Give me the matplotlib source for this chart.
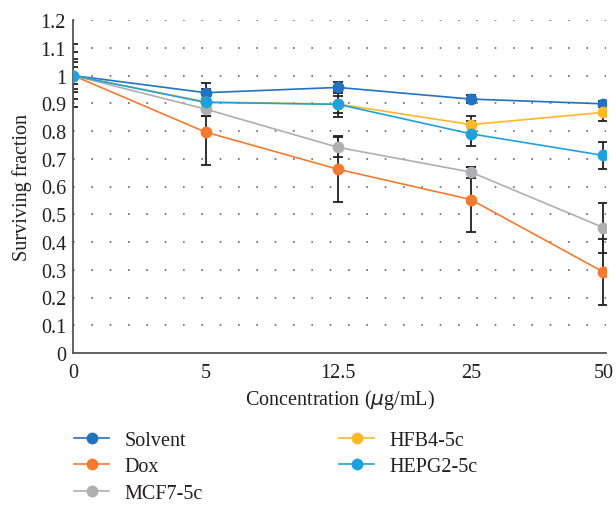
import matplotlib
matplotlib.use("Agg")
import matplotlib.pyplot as plt
import numpy as np

plt.rcParams['font.family'] = ['Liberation Serif', 'DejaVu Serif']

concentrations = ["0", "5", "12.5", "25", "50"]
series_names = ["Solvent", "Dox", "MCF7-5c", "HFB4-5c", "HEPG2-5c"]
solvent = [1.0, 0.938, 0.957, 0.915, 0.898]
dox = [1.0, 0.796, 0.662, 0.553, 0.292]
mcf7 = [1.0, 0.879, 0.741, 0.652, 0.452]
hfb4 = [1.0, 0.905, 0.897, 0.823, 0.867]
hepg2 = [1.0, 0.903, 0.896, 0.790, 0.712]
solvent_err = [0.03, 0.035, 0.02, 0.015, 0.01]
dox_err = [0.05, 0.118, 0.119, 0.118, 0.12]
mcf7_err = [0.085, 0.024, 0.036, 0.02, 0.09]
hfb4_err = [0.113, 0.03, 0.048, 0.03, 0.03]
hepg2_err = [0.06, 0.048, 0.03, 0.045, 0.048]
colors = ["#2272C0", "#F47A30", "#AFAFB1", "#FDB927", "#1EA1DC"]

values = [solvent, dox, mcf7, hfb4, hepg2]
errors = [solvent_err, dox_err, mcf7_err, hfb4_err, hepg2_err]

fig = plt.figure(figsize=(6.16, 5.06), dpi=100)
ax = fig.add_axes([73/616, 1-354/506, (606-73)/616, (354-21)/506])

x = np.arange(len(concentrations))
for name, v, e, c in zip(series_names, values, errors, colors):
    ax.errorbar(x, v, yerr=e, fmt='none', ecolor='#231F20', elinewidth=1.3,
                capsize=3.5, capthick=1.3, zorder=2)
handles = []
for name, v, e, c in zip(series_names, values, errors, colors):
    h, = ax.plot(x, v, color=c, lw=1.2, marker='o', markersize=8.5,
                 markeredgewidth=0, label=name, zorder=3)
    handles.append(h)

ax.set_xlim(0, 4.02)
ax.set_ylim(0, 1.2)
ax.set_xticks(x)
ax.set_xticklabels(concentrations)
ax.set_yticks(np.arange(0, 1.21, 0.1))
ax.set_yticklabels(["0", "0.1", "0.2", "0.3", "0.4", "0.5", "0.6", "0.7", "0.8", "0.9", "1", "1.1", "1.2"])
ax.tick_params(axis='both', length=0, labelsize=14.5, colors='#231F20', pad=5)
ax.tick_params(axis='x', pad=7)
for yv in np.arange(0.1, 1.21, 0.1):
    ax.axhline(yv, color='#666666', lw=1.2, linestyle=(0, (1, 10)), zorder=1)
for s in ['top', 'right']:
    ax.spines[s].set_visible(False)
for s in ['left', 'bottom']:
    ax.spines[s].set_color('#555555')
    ax.spines[s].set_linewidth(1.3)

ax.set_xlabel("Concentration ($\\mu$g/mL)", fontsize=14.5, color='#231F20', labelpad=4)
ax.set_ylabel("Surviving fraction", fontsize=14.5, color='#231F20', labelpad=6)

leg_kw = dict(frameon=False, fontsize=14.5, handlelength=1.75, labelspacing=0.36,
              handletextpad=0.75, borderpad=0, borderaxespad=0, loc='upper left',
              labelcolor='#231F20')
leg1 = fig.legend(handles[:3], series_names[:3], bbox_to_anchor=(74/616, 1-432/506), **leg_kw)
leg2 = fig.legend(handles[3:], series_names[3:], bbox_to_anchor=(339/616, 1-432/506), **leg_kw)

fig.savefig("out.png", dpi=100)
